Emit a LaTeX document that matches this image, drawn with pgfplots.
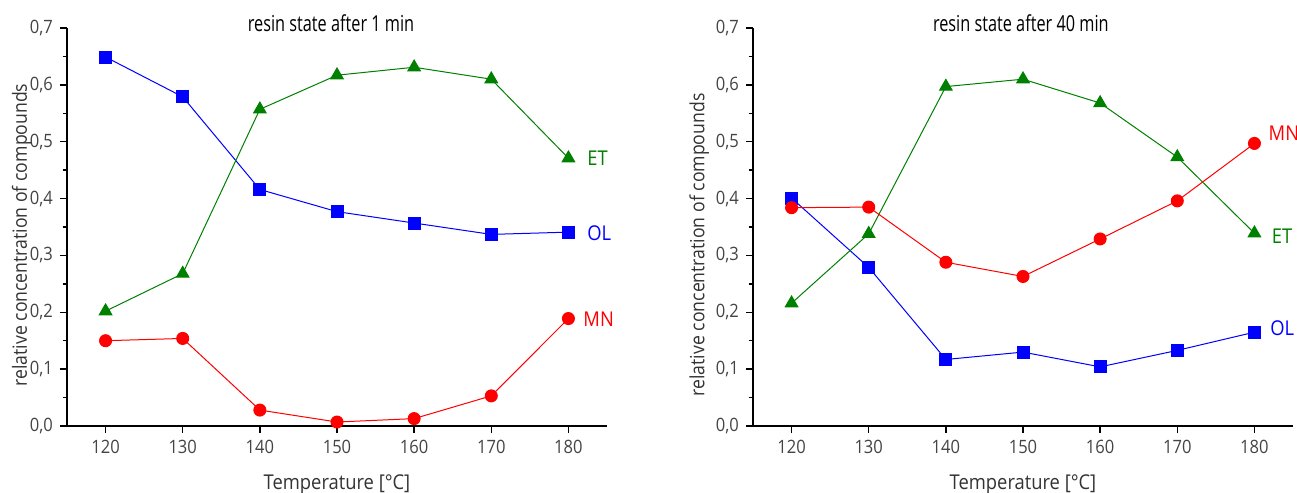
\documentclass[border=0pt]{standalone}
\usepackage{fontspec}
\setmainfont{Open Sans}[FakeStretch=0.8]
\newfontfamily\labfont{Open Sans}[FakeStretch=0.9]
\newfontfamily\titlefont{Open Sans}[FakeStretch=0.74]
\usepackage{pgfplots}
\pgfplotsset{compat=1.18}
\definecolor{tickgray}{RGB}{68,68,68}
\definecolor{labgray}{RGB}{51,51,51}
\definecolor{etgreen}{RGB}{0,128,0}
\tikzset{lab/.style={anchor=west, inner sep=0pt, font=\labfont\fontsize{10.2}{12}\selectfont}}
\pgfplotsset{
  myaxis/.style={
    scale only axis, width=270pt, height=199pt,
    xmin=115, xmax=185, ymin=0, ymax=0.7,
    axis x line*=bottom, axis y line*=left,
    xtick={120,130,140,150,160,170,180},
    ytick={0,0.1,0.2,0.3,0.4,0.5,0.6,0.7},
    minor y tick num=1,
    tick align=outside, major tick length=3.5pt, minor tick length=2.2pt,
    tick style={black, line width=0.7pt},
    axis line style={black, line width=0.9pt},
    /pgf/number format/assume math mode=true,
    ticklabel style={font=\labfont\fontsize{9.2}{11}\selectfont, text=tickgray},
    yticklabel style={/pgf/number format/.cd, fixed, fixed zerofill, precision=1, use comma},
    xticklabel style={/pgf/number format/.cd, set thousands separator={}},
    xlabel={Temperature [°C]},
    xlabel style={font=\labfont\fontsize{10.2}{12}\selectfont, text=labgray, at={(axis description cs:0.5,0)}, anchor=base, yshift=-31.7pt},
    ylabel={relative concentration of compounds},
    every axis title shift=0pt,
    title style={font=\titlefont\fontsize{11}{13}\selectfont, text=black, anchor=base, yshift=-1.8pt},
    clip=false,
  },
  ol/.style={blue, line width=0.5pt, mark=square*, mark size=3pt, mark options={solid, fill=blue}},
  mn/.style={red, line width=0.5pt, mark=*, mark size=3pt, mark options={solid, fill=red}},
  et/.style={etgreen, line width=0.5pt, mark=triangle*, mark size=3.6pt, mark options={solid, fill=etgreen}},
}
\begin{document}
\begin{tikzpicture}
\path[use as bounding box] (0,0) rectangle (648.5pt,246.5pt);
\begin{axis}[myaxis, at={(33.5pt,33.5pt)}, anchor=south west,
  title={resin state after 1 min}, title style={at={(0.489,1)}},
  ylabel style={font=\labfont\fontsize{9.8}{12}\selectfont, text=labgray, at={(axis description cs:-0.0741,0.48)}, anchor=base}]
\addplot[ol] coordinates {(120,0.649) (130,0.579) (140,0.416) (150,0.377) (160,0.357) (170,0.337) (180,0.341)};
\addplot[et] coordinates {(120,0.202) (130,0.268) (140,0.557) (150,0.617) (160,0.631) (170,0.610) (180,0.471)};
\addplot[mn] coordinates {(120,0.150) (130,0.154) (140,0.028) (150,0.007) (160,0.013) (170,0.053) (180,0.189)};
\node[lab, text=etgreen] at (axis cs:182.4,0.471) {ET};
\node[lab, text=blue] at (axis cs:182.4,0.339) {OL};
\node[lab, text=red] at (axis cs:181.9,0.188) {MN};
\end{axis}
\begin{axis}[myaxis, at={(376.5pt,33.5pt)}, anchor=south west,
  title={resin state after 40 min}, title style={at={(0.496,1)}},
  ylabel style={font=\labfont\fontsize{9.8}{12}\selectfont, text=labgray, at={(axis description cs:-0.0902,0.455)}, anchor=base}]
\addplot[ol] coordinates {(120,0.401) (130,0.279) (140,0.117) (150,0.130) (160,0.104) (170,0.133) (180,0.165)};
\addplot[et] coordinates {(120,0.216) (130,0.338) (140,0.597) (150,0.610) (160,0.568) (170,0.473) (180,0.339)};
\addplot[mn] coordinates {(120,0.384) (130,0.385) (140,0.288) (150,0.263) (160,0.329) (170,0.396) (180,0.497)};
\node[lab, text=red] at (axis cs:181.8,0.515) {MN};
\node[lab, text=etgreen] at (axis cs:182.2,0.333) {ET};
\node[lab, text=blue] at (axis cs:182.0,0.172) {OL};
\end{axis}
\end{tikzpicture}
\end{document}
